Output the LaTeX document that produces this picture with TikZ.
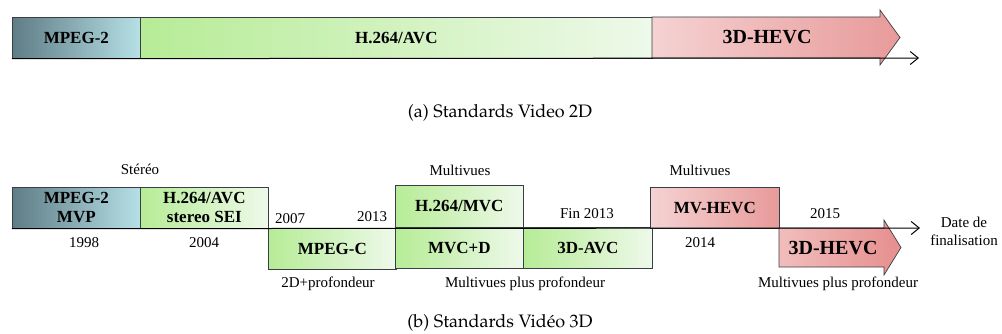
\documentclass[tikz,border=0pt]{standalone}
\usepackage[T1]{fontenc}
\usepackage{fontspec}
\setmainfont{Liberation Serif}
\usetikzlibrary{arrows.meta}
\newcommand\palfont{\fontencoding{T1}\fontfamily{ppl}\selectfont}
\definecolor{boxline}{HTML}{3A3F44}
\definecolor{blA}{HTML}{5F7D86}
\definecolor{blB}{HTML}{B6E0E6}
\definecolor{grA}{HTML}{B6EC96}
\definecolor{grB}{HTML}{EEF9EA}
\definecolor{rdA}{HTML}{F5D2D2}
\definecolor{rdB}{HTML}{E89A9A}
\definecolor{rdC}{HTML}{F2BDBD}
\definecolor{rdD}{HTML}{E68E8E}
\begin{document}
\begin{tikzpicture}[x=1pt,y=-1pt,
  box/.style={draw=boxline, line width=0.7pt, align=center, inner sep=0pt, anchor=north west,
    font=\bfseries\fontsize{17}{19}\selectfont, minimum width=128pt, minimum height=41pt},
  bluebox/.style={left color=blA, right color=blB},
  greenbox/.style={left color=grA, right color=grB},
  redbox/.style={left color=rdA, right color=rdB},
  bigtxt/.style={font=\bfseries\fontsize{20}{22}\selectfont},
  lbl/.style={font=\fontsize{15}{18}\selectfont, align=center},
  captxt/.style={font=\palfont\fontsize{18}{20}\selectfont},
  axisline/.style={line width=1pt, -{Straight Barb[length=8pt,width=13pt,line width=1pt]}}
]
\useasboundingbox (0,0) rectangle (1002,334);

% ---------- (a) ----------
\node[box,bluebox] (a1) at (12,17) {MPEG-2};
\node[box,greenbox,minimum width=512pt] (a2) at (140,17) {H.264/AVC};
\shade[draw=boxline, line width=0.7pt, left color=rdA, right color=rdB]
  (652,17) -- (880,17) -- (880,10) -- (900,37.5) -- (880,65) -- (880,58) -- (652,58) -- cycle;
\node[bigtxt] (a3) at (767,37.5) {3D-HEVC};
\coordinate (aend) at (919,58);
\draw[axisline] (a1.south west) -- (aend);
\node[captxt] (capa) at (500,113) {(a) Standards Video 2D};

% ---------- (b) ----------
\node[lbl] (stereo) at (140,169) {Stéréo};
\node[box,bluebox] (b1) at (12,187) {MPEG-2\\MVP};
\node[box,greenbox] (b2) at (140,187) {H.264/AVC\\stereo SEI};
\node[lbl] (y1998) at (84,243) {1998};
\node[lbl] (y2004) at (204,243) {2004};
\node[lbl] (y2007) at (290,219) {2007};
\node[lbl] (y2013) at (372,217) {2013};
\node[box,greenbox] (b3) at (268,228) {MPEG-C};
\node[lbl] (d2d) at (328,284) {2D+profondeur};
\node[lbl] (mv1) at (460,170) {Multivues};
\node[box,greenbox,minimum height=42pt] (b4) at (395,185) {H.264/MVC};
\node[box,greenbox] (b5) at (395,227) {MVC+D};
\node[box,greenbox,minimum width=129pt] (b6) at (523,227) {3D-AVC};
\node[lbl] (fin) at (587,214) {Fin 2013};
\node[lbl] (mvp1) at (525,284) {Multivues plus profondeur};
\node[lbl] (mv2) at (700,170) {Multivues};
\node[box,redbox,minimum width=129pt] (b7) at (650,187) {MV-HEVC};
\node[lbl] (y2014) at (700,243) {2014};
\node[lbl] (y2015) at (825,214) {2015};
\shade[draw=boxline, line width=0.7pt, left color=rdC, right color=rdD]
  (779,228) -- (884,228) -- (884,220) -- (901,247.5) -- (884,275) -- (884,267) -- (779,267) -- cycle;
\node[bigtxt] (b8) at (833,248) {3D-HEVC};
\coordinate (bend) at (920,228);
\draw[axisline] (b1.south west) -- (bend);
\node[lbl] (date) at (964,231) {Date de\\finalisation};
\node[lbl] (mvp2) at (838,284) {Multivues plus profondeur};
\node[captxt] (capb) at (500,323) {(b) Standards Vidéo 3D};
\end{tikzpicture}
\end{document}
